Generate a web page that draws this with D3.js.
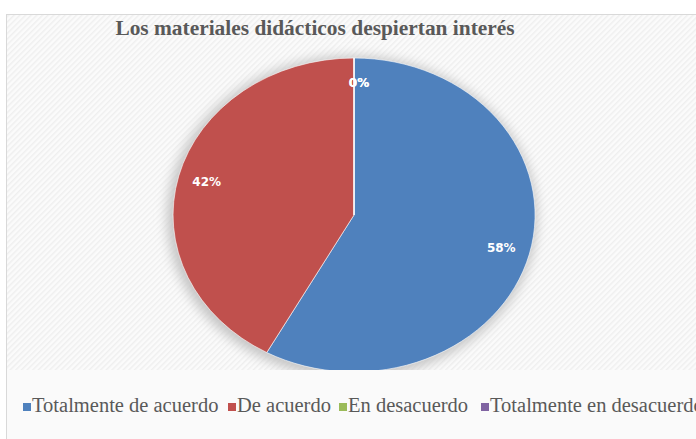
<!DOCTYPE html>
<html>
<head>
<meta charset="utf-8">
<script src="https://cdn.jsdelivr.net/npm/d3@7"></script>
<style>
  body { margin: 0; background: #fff; }
  svg { display: block; }
</style>
</head>
<body>
<div id="chart"></div>
<script>
var categories = ['Totalmente de acuerdo', 'De acuerdo', 'En desacuerdo', 'Totalmente en desacuerdo'];
var values = [58, 42, 0, 0];
var colors = ['#4F81BD', '#C0504D', '#9BBB59', '#8064A2'];
var title = 'Los materiales didácticos despiertan interés';

var width = 696, height = 439;
var cx = 354, cy = 215, rx = 181, ry = 157;

var svg = d3.select('#chart').append('svg')
  .attr('width', width)
  .attr('height', height);

var defs = svg.append('defs');

// faint diagonal hatching of the chart area
var pat = defs.append('pattern')
  .attr('id', 'hatch')
  .attr('patternUnits', 'userSpaceOnUse')
  .attr('width', 4).attr('height', 4)
  .attr('patternTransform', 'rotate(45)');
pat.append('rect').attr('width', 4).attr('height', 4).attr('fill', '#fbfbfb');
pat.append('rect').attr('width', 1.5).attr('height', 4).attr('fill', '#efefef');

var blur = defs.append('filter').attr('id', 'glow')
  .attr('x', '-20%').attr('y', '-20%').attr('width', '140%').attr('height', '140%');
blur.append('feGaussianBlur').attr('stdDeviation', 6);

// chart frame
svg.append('rect')
  .attr('x', 6.5).attr('y', 14.5)
  .attr('width', 720).attr('height', 440)
  .attr('fill', '#fafafa')
  .attr('stroke', '#d9d9d9');

svg.append('rect')
  .attr('x', 7).attr('y', 15)
  .attr('width', 700).attr('height', 355)
  .attr('fill', 'url(#hatch)');

svg.append('text')
  .attr('x', 315).attr('y', 35)
  .attr('text-anchor', 'middle')
  .style('font-family', '"Liberation Serif", "Times New Roman", serif')
  .style('font-weight', 'bold')
  .style('font-size', '21.4px')
  .style('fill', '#595959')
  .text(title);

var data = categories.map(function(c, i) {
  return {name: c, value: values[i], color: colors[i]};
});

var pie = d3.pie().sort(null).value(function(d) { return d.value; });
var arcs = pie(data);
var arc = d3.arc().innerRadius(0).outerRadius(1);

// soft shadow behind the pie
svg.append('ellipse')
  .attr('cx', cx - 2).attr('cy', cy + 2)
  .attr('rx', rx + 4).attr('ry', ry + 4)
  .attr('fill', '#c4c4c4')
  .attr('filter', 'url(#glow)');

var g = svg.append('g')
  .attr('transform', 'translate(' + cx + ',' + cy + ') scale(' + rx + ',' + ry + ')');

g.selectAll('path.slice').data(arcs)
  .enter().append('path')
  .attr('class', 'slice')
  .attr('d', arc)
  .attr('fill', function(d) { return d.data.color; })
  .attr('stroke', '#fff')
  .attr('stroke-width', 0.6)
  .attr('vector-effect', 'non-scaling-stroke');

// legend area covers the bottom of the pie
svg.append('rect')
  .attr('x', 7).attr('y', 370)
  .attr('width', 700).attr('height', 69)
  .attr('fill', '#fafafa');

var labelR = 0.84;
svg.selectAll('text.lbl').data(arcs)
  .enter().append('text')
  .attr('class', 'lbl')
  .attr('x', function(d) {
    var a = (d.startAngle + d.endAngle) / 2;
    return cx + Math.sin(a) * rx * labelR + (d.value === 0 ? 5 : 0);
  })
  .attr('y', function(d) {
    var a = (d.startAngle + d.endAngle) / 2;
    return cy - Math.cos(a) * ry * labelR;
  })
  .attr('dy', '0.35em')
  .attr('text-anchor', 'middle')
  .style('font-family', '"DejaVu Sans", Verdana, sans-serif')
  .style('font-weight', 'bold')
  .style('font-size', '12px')
  .style('fill', '#fff')
  .text(function(d) { return d.data.value + '%'; });

// legend
var legendX = [23, 228, 339, 481];
var leg = svg.selectAll('g.leg').data(data)
  .enter().append('g')
  .attr('class', 'leg')
  .attr('transform', function(d, i) { return 'translate(' + legendX[i] + ',412)'; });

leg.append('rect')
  .attr('x', 0).attr('y', -9)
  .attr('width', 8).attr('height', 8)
  .attr('fill', function(d) { return d.color; });

leg.append('text')
  .attr('x', 9).attr('y', 0)
  .style('font-family', '"Liberation Serif", "Times New Roman", serif')
  .style('font-size', '20.5px')
  .style('fill', '#595959')
  .text(function(d) { return d.name; });
</script>
</body>
</html>
